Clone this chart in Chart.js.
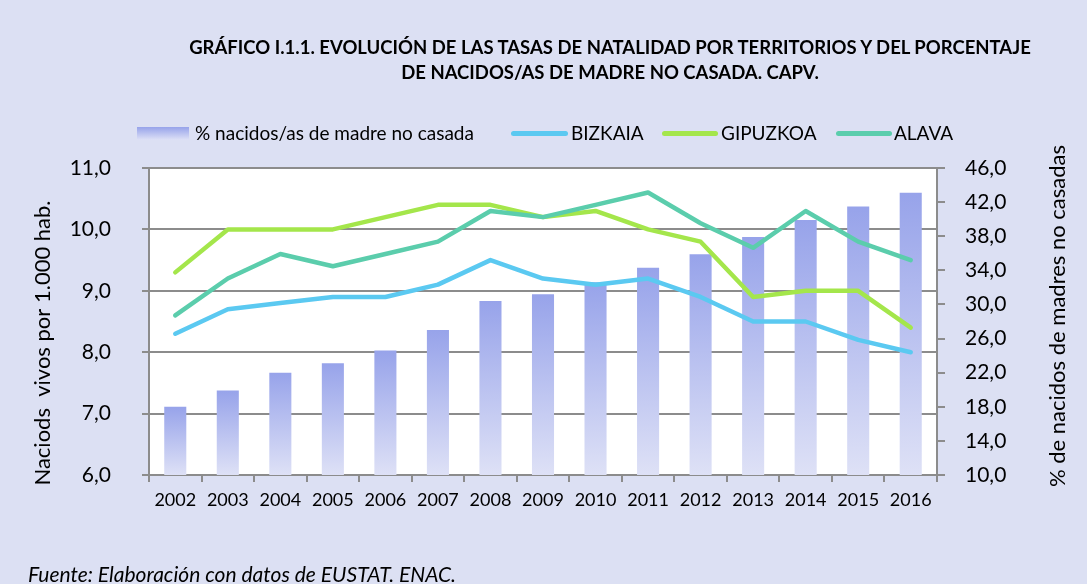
<!DOCTYPE html>
<html>
<head>
<meta charset="utf-8">
<script src="https://cdn.jsdelivr.net/npm/chart.js@4.4.1/dist/chart.umd.min.js"></script>
<style>
  html, body { margin:0; padding:0; background:#dce0f3; }
  #wrap { position:absolute; left:0; top:0; width:1087px; height:584px; overflow:hidden; background:#dce0f3; font-family:Lato, "Open Sans", sans-serif; color:#000; }
  #c { position:absolute; left:0; top:0; }
  #title { position:absolute; left:160px; width:900px; top:35px; text-align:center; font-weight:bold; font-size:18.5px; line-height:25px; white-space:nowrap; }
  #legend { position:absolute; top:122px; left:0; width:1087px; height:22px; font-size:19px; }
  .lg { position:absolute; top:0; white-space:nowrap; line-height:22px; }
  .sw { position:absolute; }
  #src { position:absolute; left:28px; top:563px; font-style:italic; font-size:21px; line-height:21px; white-space:nowrap; }
</style>
</head>
<body>
<div id="wrap">
  <canvas id="c" width="1087" height="584"></canvas>
  <div id="title">GRÁFICO I.1.1. EVOLUCIÓN DE LAS TASAS DE NATALIDAD POR TERRITORIOS Y DEL PORCENTAJE<br>DE NACIDOS/AS DE MADRE NO CASADA. CAPV.</div>
  <div id="legend"></div>
  <div id="src">Fuente: Elaboración con datos de EUSTAT. ENAC.</div>
</div>
<script>
const years = ['2002','2003','2004','2005','2006','2007','2008','2009','2010','2011','2012','2013','2014','2015','2016'];
const noCasada = [18.0, 19.9, 22.0, 23.1, 24.6, 27.0, 30.4, 31.2, 32.6, 34.3, 35.9, 37.9, 39.9, 41.5, 43.1];
const bizkaia  = [8.3, 8.7, 8.8, 8.9, 8.9, 9.1, 9.5, 9.2, 9.1, 9.2, 8.9, 8.5, 8.5, 8.2, 8.0];
const gipuzkoa = [9.3, 10.0, 10.0, 10.0, 10.2, 10.4, 10.4, 10.2, 10.3, 10.0, 9.8, 8.9, 9.0, 9.0, 8.4];
const alava    = [8.6, 9.2, 9.6, 9.4, 9.6, 9.8, 10.3, 10.2, 10.4, 10.6, 10.1, 9.7, 10.3, 9.8, 9.5];
const leftTicks = [6, 7, 8, 9, 10, 11];
const rightTicks = [10, 14, 18, 22, 26, 30, 34, 38, 42, 46];

const leftTitle = 'Naciods  vivos por 1.000 hab.';
const rightTitle = '% de nacidos de madres no casadas';

const colBiz = '#5bc9f1', colGip = '#a4e64b', colAla = '#5bcdac';
const barTop = '#97a3ea', barBot = '#dee1f6';
const gridCol = '#8c8c8c';
const FONT = 'Lato, "Open Sans", sans-serif';

// legend (html)
const legendItems = [
  { text:'% nacidos/as de madre no casada', sw:'bar', swX:137, swW:52, txtX:195 },
  { text:'BIZKAIA', color:colBiz, swX:511, swW:57, txtX:571 },
  { text:'GIPUZKOA', color:colGip, swX:662, swW:56, txtX:721 },
  { text:'ALAVA', color:colAla, swX:836, swW:56, txtX:894 }
];
const lg = document.getElementById('legend');
legendItems.forEach(it => {
  const s = document.createElement('div');
  s.className = 'sw';
  if (it.sw === 'bar') {
    s.style.cssText = `left:${it.swX}px;top:5px;width:${it.swW}px;height:13px;background:linear-gradient(${barTop},${barBot});`;
  } else {
    s.style.cssText = `left:${it.swX}px;top:9px;width:${it.swW}px;height:5px;border-radius:3px;background:${it.color};`;
  }
  lg.appendChild(s);
  const t = document.createElement('div');
  t.className = 'lg';
  t.style.left = it.txtX + 'px';
  t.textContent = it.text;
  lg.appendChild(t);
});

const fmt = v => v.toFixed(1).replace('.', ',');

const plotBg = {
  id: 'plotBg',
  beforeDraw(chart) {
    const a = chart.chartArea, ctx = chart.ctx;
    ctx.save();
    ctx.fillStyle = '#ffffff';
    ctx.fillRect(a.left, a.top, a.right - a.left, a.bottom - a.top);
    ctx.restore();
  },
  afterDraw(chart) {
    // rotated axis titles, both read bottom-to-top
    const ctx = chart.ctx;
    [[leftTitle, 43, 343], [rightTitle, 1058, 316]].forEach(([txt, x, y]) => {
      ctx.save();
      ctx.fillStyle = '#000';
      ctx.font = '22px ' + FONT;
      ctx.textAlign = 'center';
      ctx.textBaseline = 'middle';
      ctx.translate(x, y);
      ctx.rotate(-Math.PI / 2);
      ctx.fillText(txt, 0, 0);
      ctx.restore();
    });
  }
};

function barGradient(c) {
  const chart = c.chart;
  const s = chart.scales.y2;
  if (!s || !chart.chartArea || c.type !== 'data') return barTop;
  const top = s.getPixelForValue(c.raw);
  const g = chart.ctx.createLinearGradient(0, top, 0, s.bottom);
  g.addColorStop(0, barTop);
  g.addColorStop(1, barBot);
  return g;
}

const lineDs = (label, data, color, order) => ({
  type: 'line', label, data, yAxisID: 'y',
  borderColor: color, backgroundColor: color,
  borderWidth: 4.5, pointRadius: 0, tension: 0,
  borderCapStyle: 'round', borderJoinStyle: 'round',
  fill: false, order
});

new Chart(document.getElementById('c'), {
  type: 'bar',
  data: {
    labels: years,
    datasets: [
      lineDs('ALAVA', alava, colAla, 0),
      lineDs('GIPUZKOA', gipuzkoa, colGip, 1),
      lineDs('BIZKAIA', bizkaia, colBiz, 1),
      {
        type: 'bar', label: '% nacidos/as de madre no casada', data: noCasada, yAxisID: 'y2',
        backgroundColor: barGradient, barPercentage: 0.42, categoryPercentage: 1, order: 5
      }
    ]
  },
  options: {
    responsive: false, animation: false, devicePixelRatio: 1,
    layout: { padding: { top: 168, left: 0, right: 0, bottom: 0 } },
    plugins: { legend: { display: false }, tooltip: { enabled: false } },
    scales: {
      x: {
        afterFit: s => { s.height = 109; },
        grid: { offset: true, drawOnChartArea: false, drawTicks: true, tickLength: 7, color: gridCol, lineWidth: 2 },
        border: { display: true, color: gridCol, width: 2 },
        ticks: { color: '#000', font: { family: FONT, size: 18 }, padding: 7, maxRotation: 0 }
      },
      y: {
        position: 'left', min: 6, max: 11,
        afterFit: s => { s.width = 149; },
        afterBuildTicks: s => { s.ticks = leftTicks.map(v => ({ value: v })); },
        grid: { color: gridCol, lineWidth: 2, tickLength: 7 },
        border: { display: true, color: gridCol, width: 2 },
        ticks: { color: '#000', font: { family: FONT, size: 21 }, padding: 31, callback: v => fmt(v) }
      },
      y2: {
        position: 'right', min: 10, max: 46,
        afterFit: s => { s.width = 150; },
        afterBuildTicks: s => { s.ticks = rightTicks.map(v => ({ value: v })); },
        grid: { drawOnChartArea: false, color: gridCol, lineWidth: 2, tickLength: 8 },
        border: { display: true, color: gridCol, width: 2 },
        ticks: { color: '#000', font: { family: FONT, size: 21 }, padding: 20, callback: v => fmt(v) }
      }
    }
  },
  plugins: [plotBg]
});
</script>
</body>
</html>
